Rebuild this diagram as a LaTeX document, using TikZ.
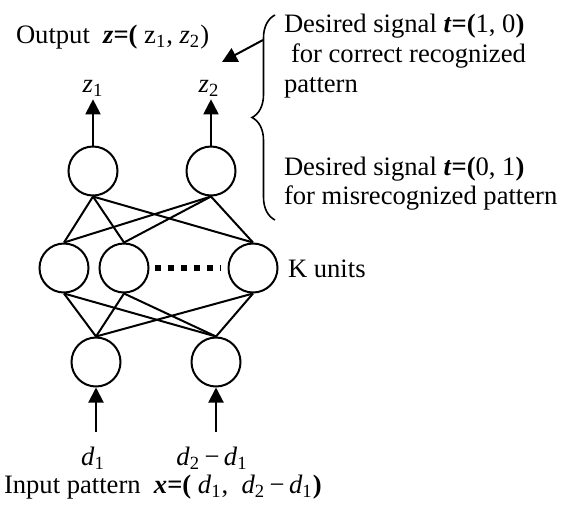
\documentclass[tikz,border=0pt]{standalone}
\usepackage{fontspec}
\setmainfont{Liberation Serif}
\usetikzlibrary{positioning, arrows.meta, decorations.pathreplacing}

\begin{document}
\begin{tikzpicture}[x=0.5pt, y=-0.5pt, line width=1pt,
	font=\fontsize{13.3}{15}\selectfont,
	unit/.style={circle, draw, minimum size=24.5pt, inner sep=0},
	sig/.style={-{Triangle[length=7.5pt, width=7.5pt]}},
	txt/.style={anchor=base west, inner sep=0},
	lbl/.style={anchor=base, inner sep=1pt}]
	\useasboundingbox (0,0) rectangle (565,509);
	% layers
	\foreach \x/\n in {93/1,211/2} {
		\node[unit] at(\x,171) (o\n) {};
	};
	\foreach \x/\n in {64/1,124/2,253/3} {
		\node[unit] at(\x,268) (h\n) {};
	};
	\foreach \x/\n in {96/1,216/2} {
		\node[unit] at(\x,362) (i\n) {};
		\coordinate (s\n) at(\x,432);
		\draw[sig] (s\n) -- (i\n.south);
	};
	\foreach \a in {1,2} {
		\foreach \b in {1,2,3} {
			\draw (o\a.south) -- (h\b.north);
			\draw (i\a.north) -- (h\b.south);
		};
	};
	\draw[line width=3pt, dash pattern=on 3pt off 3.5pt, shorten <=2.5pt, shorten >=3.5pt] (h2) -- (h3);
	\node[txt] (k) at(287,277) {K units};
	% outputs
	\node[lbl] (z1) at(93,92) {\textit{z}\textsubscript{1}};
	\node[lbl] (z2) at(209,92) {\textit{z}\textsubscript{2}};
	\draw[sig] (o1.north) -- (o1.north |- z1.south);
	\draw[sig] (o2.north) -- (o2.north |- z2.south);
	\node[txt] (out) at(15,43) {Output\ \ \textbf{\textit{z}=(} z\textsubscript{1}, \textit{z}\textsubscript{2})};
	% inputs
	\node[lbl] (d1) at(93,465) {\textit{d}\textsubscript{1}};
	\node[lbl] (d2) at(212,465) {\textit{d}\textsubscript{2}\,−\,\textit{d}\textsubscript{1}};
	\node[txt] (inp) at(3,493) {Input pattern\ \ \textbf{\textit{x}=(} \textit{d}\textsubscript{1},\ \ \textit{d}\textsubscript{2}\,−\,\textit{d}\textsubscript{1}\textbf{)}};
	% desired signals
	\draw[line width=0.8pt, decorate, decoration={brace, amplitude=11.5pt}] (275,220) -- (275,15);
	\coordinate (bt) at(263,40);
	\coordinate (bh) at(222,62);
	\draw[sig] (bt) -- (bh);
	\node[txt] (t1) at(283,32) {Desired signal \textbf{\textit{t}=(}1, 0\textbf{)}};
	\node[txt] (t1b) at(290,62) {for correct recognized};
	\node[txt] (t1c) at(283,92) {pattern};
	\node[txt] (t2) at(283,175) {Desired signal \textbf{\textit{t}=(}0, 1\textbf{)}};
	\node[txt] (t2b) at(283,204) {for misrecognized pattern};
\end{tikzpicture}
\end{document}
